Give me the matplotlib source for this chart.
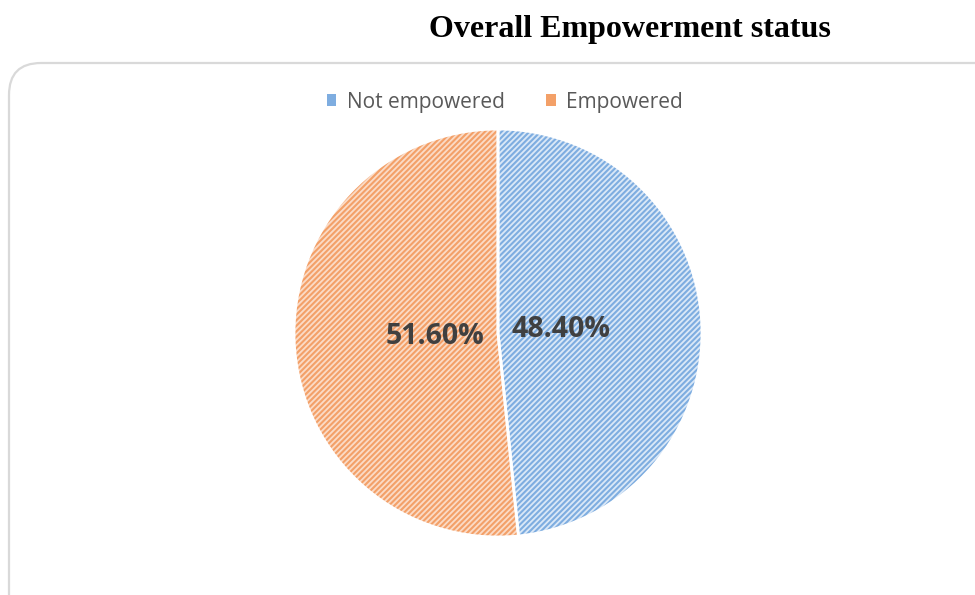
import matplotlib
matplotlib.use("Agg")
import matplotlib.pyplot as plt
from matplotlib.patches import FancyBboxPatch, Patch

labels = ["Not empowered", "Empowered"]
values = [48.40, 51.60]
fill_colors = ["#DAE8F7", "#FBDBC6"]
hatch_colors = ["#7EADE0", "#F3A068"]
title = "Overall Empowerment status"

W, H = 975, 595
fig = plt.figure(figsize=(W / 100, H / 100), dpi=100)
plt.rcParams['hatch.linewidth'] = 1.5

# background frame
bg = fig.add_axes([0, 0, 1, 1])
bg.set_xlim(0, W)
bg.set_ylim(H, 0)
bg.axis("off")
frame = FancyBboxPatch((9, 63), 1100, 700, boxstyle="round,pad=0,rounding_size=32",
                       facecolor="white", edgecolor="#D9D9D9", linewidth=1.6)
bg.add_patch(frame)

# title
fig.text(630 / W, 1 - 30 / H, title, ha="center", va="center",
         fontfamily="Liberation Serif", fontweight="bold", fontsize=23, color="black")

cx, cy, r = 498, 333, 205
ax = fig.add_axes([(cx - r) / W, (H - cy - r) / H, 2 * r / W, 2 * r / H])
wedges, texts, autotexts = ax.pie(
    values, startangle=90, counterclock=False, colors=fill_colors,
    autopct=lambda p: f"{p:.2f}%", pctdistance=0.31,
    wedgeprops=dict(linewidth=0),
    textprops=dict(fontsize=20.5, fontweight="bold", color="#404040", family="Open Sans"))
for w, hc in zip(wedges, hatch_colors):
    w.set_hatch("//////")
    w.set_edgecolor(hc)
    w.set_linewidth(0)
# white separators
ax.pie(values, startangle=90, counterclock=False,
       wedgeprops=dict(fill=False, edgecolor="white", linewidth=2))
ax.set_xlim(-1.005, 1.005)
ax.set_ylim(-1.005, 1.005)
ax.set_aspect("equal")

handles = [Patch(facecolor=hc, edgecolor=hc, linewidth=0)
           for fc, hc in zip(fill_colors, hatch_colors)]
leg = fig.legend(handles, labels, loc="center", bbox_to_anchor=(505 / W, 1 - 102 / H),
                 ncol=2, frameon=False, handlelength=0.45, handleheight=0.45,
                 handletextpad=0.5, columnspacing=2.0,
                 prop=dict(family="Open Sans", size=15))
for t in leg.get_texts():
    t.set_color("#595959")

fig.savefig("out.png", dpi=100)
